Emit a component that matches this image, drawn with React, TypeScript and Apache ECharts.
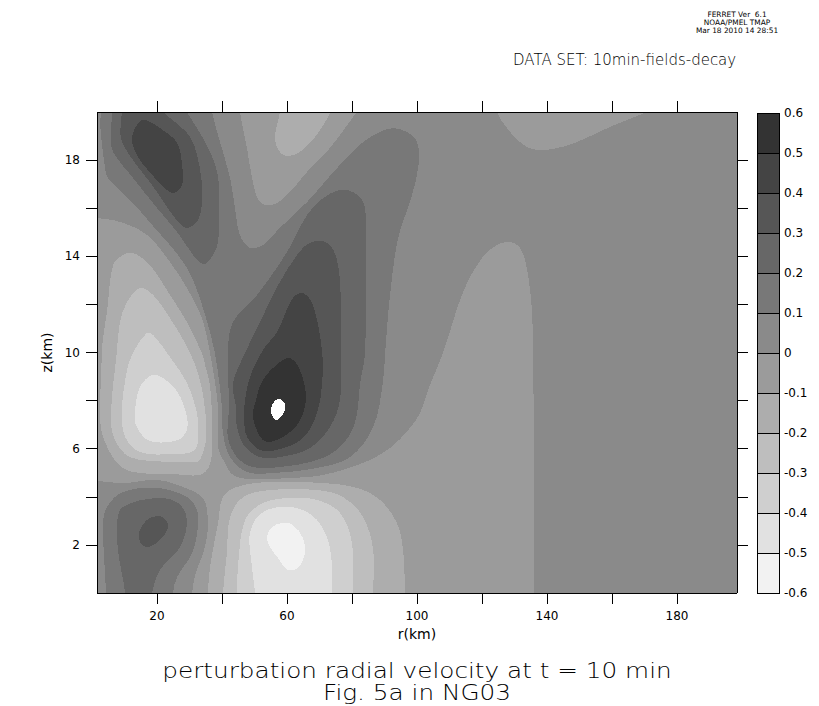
import React, { useEffect, useRef } from "react";
import * as echarts from "echarts";

// axis data
const rRange = [1.54, 198.46];
const zRange = [0, 20];
const rTicks = [20, 40, 60, 80, 100, 120, 140, 160, 180];
const rLabels = [20, 60, 100, 140, 180];
const zTicks = [2, 4, 6, 8, 10, 12, 14, 16, 18];
const zLabels = [2, 6, 10, 14, 18];
const levels = [-0.6, -0.5, -0.4, -0.3, -0.2, -0.1, 0, 0.1, 0.2, 0.3, 0.4, 0.5, 0.6];
const bandColors = ["#f2f2f2", "#e1e1e1", "#cfcfcf", "#bebebe", "#adadad", "#9b9b9b", "#8a8a8a", "#787878", "#676767", "#565656", "#444444", "#333333"];

// contour outlines as [r km, z km]
const above01 = [[2.8,20.5],[36.9,20.5],[36.9,20],[39.4,18.75],[42.5,17.26],[44,16.01],[45.5,14.89],[48.6,14.35],[52.6,14.47],[57.8,15.18],[66.2,16.26],[75.4,17.67],[83.4,18.75],[88.6,19.17],[92.6,19.33],[96.9,19.17],[100,18.75],[100.6,17.92],[98.5,16.55],[94.2,14.76],[91.7,12.39],[90.2,9.98],[89.5,8.73],[86.5,6.9],[79.4,5.65],[69.2,5.2],[55.7,4.99],[47.7,5.03],[42.5,5.65],[40.3,6.65],[40,7.73],[37.8,9.98],[34.8,11.56],[30.8,13.1],[26.5,14.05],[18.5,15.3],[13.2,16.13],[4.9,17.26],[4,17.67],[2.5,19.46],[2.8,20]];
const above02Upper = [[6.2,20.5],[6.2,20],[5.8,18.92],[6.5,18.34],[12.6,17.26],[20,16.01],[26.2,15.01],[32.3,13.85],[34.8,13.68],[37.2,14.05],[38.8,14.59],[39.1,16.26],[38.5,17.51],[34.8,18.75],[29.2,20],[27.1,20.5]];
const above03Upper = [[9.2,20.5],[9.2,20],[8.9,18.92],[12.6,18],[17.8,17.09],[26.5,15.43],[29.5,15.18],[32.6,15.51],[33.8,16.13],[33.8,17.09],[32.3,18.21],[30.2,18.96],[25.5,19.59],[21.8,20],[19.4,20.5]];
const above04Upper = [[12.3,18.92],[14.8,19.63],[17.2,19.63],[21.8,19.25],[26.2,18.71],[27.7,17.8],[27.7,16.96],[24.9,16.63],[21.8,16.92],[17.2,17.59],[13.8,18.21]];
const above02Mid = [[76.3,16.76],[80.3,16.67],[83.4,16.26],[84.3,15.43],[84.3,13.35],[84,9.98],[82.5,8.73],[80.9,7.07],[76.3,6.07],[69.2,5.53],[57.8,5.24],[49.5,5.24],[44.6,5.65],[41.8,6.49],[42.2,7.73],[41.8,9.98],[43.4,11.27],[50.8,12.39],[60,14.18],[66.2,15.72],[71.1,16.42]];
const above03Mid = [[69.2,14.64],[73.2,14.47],[75.7,13.64],[76.6,11.98],[76.6,9.98],[76.3,8.02],[73.2,6.9],[67.1,6.03],[57.8,5.65],[51.7,5.65],[47.1,6.07],[44.6,6.9],[44.3,7.73],[43.4,8.73],[47.1,9.98],[51.7,11.27],[57.8,12.93],[64.9,14.35]];
const above04Mid = [[64.9,12.47],[68,11.98],[70.8,10.02],[70.8,8.73],[69.2,7.48],[64.9,6.44],[56.9,5.95],[51.7,5.95],[47.7,6.49],[46.8,7.32],[47.1,8.02],[48.6,8.98],[52.6,10.1],[56.9,10.85],[61.8,12.27]];
const above05Mid = [[60.9,9.77],[64,9.27],[65.8,8.02],[63.1,6.99],[56.9,6.36],[52.6,6.36],[49.5,7.32],[50.2,7.9],[52.6,8.86],[57.8,9.6]];
const above06Mid = [[57.2,8.07],[59.1,7.94],[59.4,7.61],[56.9,7.19],[55.1,7.48],[55.4,7.82]];
const below0Main = [[-0.6,15.59],[1.5,15.59],[8.6,15.43],[16.9,14.89],[24,13.76],[29.2,12.68],[33.8,11.43],[36.3,9.98],[38.8,7.73],[38.8,6.07],[40.9,5.41],[43.4,4.91],[48.6,4.74],[60.9,4.78],[71.1,4.91],[83.4,5.41],[91.7,6.03],[97.8,6.86],[100.9,7.48],[104,8.65],[108,9.98],[114.2,12.52],[120,13.93],[124.6,14.47],[128.6,14.59],[131.7,14.35],[133.8,13.51],[135.4,11.68],[135.7,9.98],[136,5.95],[136,3.5],[136,1],[136,0],[136,-0.3],[135,-0.5],[31,-0.5],[30.6,-0.3],[30.8,0],[31.7,0.75],[33.8,1.5],[35.4,2.33],[35.4,3.45],[33.8,3.99],[28,4.41],[20,4.7],[9.5,4.57],[1.5,4.66],[-0.6,4.66]];
const below0Top = [[45.5,20.5],[45.5,20],[47.7,18.5],[49.5,17.09],[51.7,16.26],[55.4,16.13],[60,16.55],[66.2,17.51],[73.2,18.5],[81.5,20],[84.6,20.5]];
const below0TopRight = [[124.6,20.5],[124.6,20],[127.7,19.33],[131.7,18.75],[135.4,18.46],[141.8,18.46],[149.2,18.75],[159.4,19.38],[170.8,20],[179.4,20.5]];
const belowM01Top = [[57.8,20.5],[57.8,20],[56.3,18.92],[57.8,18.34],[60.3,18.17],[64,18.34],[69.2,19.05],[73.5,20],[75.7,20.5]];
const belowM01Left = [[6.5,13.64],[9.5,14.05],[12.6,14.14],[17.8,13.64],[24,12.39],[29.2,11.27],[33.8,9.98],[34.8,9.48],[36.3,8.65],[36.9,7.32],[36.9,5.82],[36,5.24],[33.2,4.91],[24.9,4.95],[12.6,5.03],[7.7,5.41],[3.4,6.49],[2.5,7.32],[3.1,10.1],[3.4,10.6],[4.6,11.68]];
const belowM02Left = [[8.6,11.27],[10.8,12.1],[14.8,12.68],[18.8,12.39],[24,11.43],[30.2,9.98],[33.2,8.86],[34.8,7.61],[35.1,6.36],[33.2,5.53],[31.7,5.45],[24,5.45],[11.7,5.65],[7.1,6.36],[5.8,7.32],[7.7,10.1]];
const belowM03Left = [[16.9,10.81],[18.8,10.73],[24,9.81],[29.2,8.73],[32.3,7.48],[32.6,6.78],[31.7,5.95],[24.9,5.78],[14.8,5.86],[10.2,6.49],[9.2,7.61],[10.8,9.27],[12.6,9.98]];
const belowM04Left = [[14.8,8.57],[18.5,9.06],[21.8,8.94],[26.5,8.32],[29.2,7.32],[29.2,6.78],[26.5,6.36],[17.8,6.32],[13.8,6.9],[13.2,7.48]];
const belowM01Low = [[35.7,-0.5],[35.7,0],[36.3,1.08],[38.8,2.91],[40.3,3.99],[44.6,4.41],[54.8,4.62],[71.1,4.57],[81.5,4.37],[88.6,3.87],[93.8,2.91],[95.7,1.79],[96.3,0],[96.3,-0.5]];
const belowM02Low = [[40.3,-0.5],[40.3,0],[41.5,1.66],[42.5,3.16],[46.5,3.99],[54.8,4.28],[69.2,4.28],[77.2,3.99],[83.4,3.16],[86.5,1.79],[86.5,0],[86.5,-0.5]];
const belowM03Low = [[44.6,-0.5],[44.6,0],[44.9,1.08],[47.1,3.04],[52.6,3.74],[60.9,3.95],[69.2,3.87],[76.3,3.33],[80,2.08],[80.3,0],[80.3,-0.5]];
const belowM04Low = [[50.2,-0.5],[50.2,0],[48.6,1.79],[48.6,2.49],[50.8,3.16],[55.7,3.53],[63.1,3.53],[69.2,3.04],[73.2,1.91],[73.8,0],[73.8,-0.5]];
const belowM05Low = [[53.8,2.33],[55.4,2.74],[58.5,2.91],[61.8,2.83],[64.9,2.29],[65.5,1.66],[63.4,1.04],[60.3,0.96],[57.2,1.46],[54.8,1.91]];
const above01Low = [[4.3,-0.5],[4.3,0],[3.4,2.91],[4.6,3.58],[9.5,4.2],[20,4.37],[29.2,3.99],[32.3,3.45],[32.6,2.74],[30.8,1.66],[26.2,0.67],[24.9,0],[24.9,-0.5]];
const above02Low = [[10.2,-0.5],[10.2,0],[8,1.79],[7.7,2.91],[9.5,3.58],[20,3.95],[26.5,3.74],[29.2,3.04],[27.1,1.91],[20.9,0.96],[18.5,0],[18.5,-0.5]];
const above03Low = [[14.5,2.54],[16.9,3.04],[20.9,3.2],[23.4,2.83],[21.5,2.29],[17.2,1.91],[14.8,2.12]];

const byBand = (i: number) => bandColors[i];
const contours: { points: number[][]; fill: string }[] = [
  { points: above01, fill: byBand(7) }, { points: above02Upper, fill: byBand(8) }, { points: above03Upper, fill: byBand(9) }, { points: above04Upper, fill: byBand(10) },
  { points: above02Mid, fill: byBand(8) }, { points: above03Mid, fill: byBand(9) }, { points: above04Mid, fill: byBand(10) }, { points: above05Mid, fill: byBand(11) }, { points: above06Mid, fill: "#ffffff" },
  { points: below0Main, fill: byBand(5) }, { points: below0Top, fill: byBand(5) }, { points: below0TopRight, fill: byBand(5) },
  { points: belowM01Top, fill: byBand(4) }, { points: belowM01Left, fill: byBand(4) }, { points: belowM02Left, fill: byBand(3) }, { points: belowM03Left, fill: byBand(2) }, { points: belowM04Left, fill: byBand(1) },
  { points: belowM01Low, fill: byBand(4) }, { points: belowM02Low, fill: byBand(3) }, { points: belowM03Low, fill: byBand(2) }, { points: belowM04Low, fill: byBand(1) }, { points: belowM05Low, fill: byBand(0) },
  { points: above01Low, fill: byBand(7) }, { points: above02Low, fill: byBand(8) }, { points: above03Low, fill: byBand(9) },
];

const sans = "'DejaVu Sans', sans-serif";
const line = { show: true, onZero: false, lineStyle: { color: "#000", width: 1 } };
const tick = { show: true, length: 11, inside: false, lineStyle: { color: "#000", width: 1 } };
const labelFont = { color: "#000", fontFamily: sans, fontSize: 12 };

export default function App() {
  const ref = useRef<HTMLDivElement>(null);
  useEffect(() => {
    const chart = echarts.init(ref.current!, undefined, { renderer: "svg" });
    chart.setOption({
      animation: false,
      backgroundColor: "#ffffff",
      grid: [
        { left: 97, top: 112, width: 640, height: 481, show: true, backgroundColor: byBand(6), borderWidth: 0 },
        { left: 757, top: 113, width: 22, height: 480, show: false },
      ],
      xAxis: [
        { type: "value", z: 5, gridIndex: 0, min: rRange[0], max: rRange[1], position: "bottom", axisLine: line, splitLine: { show: false },
          axisTick: { ...tick, customValues: rTicks }, axisLabel: { ...labelFont, margin: 17, customValues: rLabels, hideOverlap: false },
          name: "r(km)", nameLocation: "middle", nameGap: 34, nameTextStyle: { ...labelFont, fontSize: 14 } },
        { type: "value", z: 5, gridIndex: 0, min: rRange[0], max: rRange[1], position: "top", axisLine: line, splitLine: { show: false },
          axisTick: { ...tick, customValues: rTicks }, axisLabel: { show: false } },
        { type: "value", gridIndex: 1, min: 0, max: 1, show: false },
      ],
      yAxis: [
        { type: "value", z: 5, gridIndex: 0, min: zRange[0], max: zRange[1], position: "left", axisLine: line, splitLine: { show: false },
          axisTick: { ...tick, customValues: zTicks }, axisLabel: { ...labelFont, margin: 17, customValues: zLabels },
          name: "z(km)", nameLocation: "middle", nameGap: 38, nameTextStyle: { ...labelFont, fontSize: 14 } },
        { type: "value", z: 5, gridIndex: 0, min: zRange[0], max: zRange[1], position: "right", axisLine: line, splitLine: { show: false },
          axisTick: { ...tick, customValues: zTicks }, axisLabel: { show: false } },
        { type: "value", gridIndex: 1, min: levels[0], max: levels[levels.length - 1], interval: 0.1, position: "right", axisLine: { show: false }, axisTick: { show: false }, splitLine: { show: false },
          axisLabel: { ...labelFont, margin: 5, formatter: (v: number) => String(Number(v.toFixed(1))) } },
      ],
      series: [
        {
          type: "custom", xAxisIndex: 0, yAxisIndex: 0, clip: true, silent: true,
          data: contours.map((c) => c.points[0]),
          renderItem: (params: any, api: any) => ({
            type: "polygon",
            shape: { points: contours[params.dataIndex].points.map((p) => api.coord(p)), smooth: 0.35 },
            style: { fill: contours[params.dataIndex].fill },
          }),
        },
        {
          type: "custom", xAxisIndex: 2, yAxisIndex: 2, silent: true,
          data: bandColors.map((_, i) => [0, levels[i], 1, levels[i + 1]]),
          renderItem: (params: any, api: any) => {
            const a = api.coord([api.value(0), api.value(1)]);
            const b = api.coord([api.value(2), api.value(3)]);
            return { type: "rect", shape: { x: a[0], y: b[1], width: b[0] - a[0], height: a[1] - b[1] }, style: { fill: bandColors[params.dataIndex], stroke: "#000", lineWidth: 1 } };
          },
        },
      ],
      graphic: [
        { type: "text", x: 737, y: 14, style: { text: "FERRET Ver  6.1", font: `7.4px ${sans}`, fill: "#000", align: "center", verticalAlign: "middle" } },
        { type: "text", x: 737, y: 22, style: { text: "NOAA/PMEL TMAP", font: `7.4px ${sans}`, fill: "#000", align: "center", verticalAlign: "middle" } },
        { type: "text", x: 737, y: 30, style: { text: "Mar 18 2010 14 28:51", font: `7.4px ${sans}`, fill: "#000", align: "center", verticalAlign: "middle" } },
        { type: "text", x: 513, y: 60, style: { text: "DATA SET: 10min-fields-decay", font: `200 15px ${sans}`, fill: "#000", align: "left", verticalAlign: "middle" } },
        { type: "text", x: 417, y: 671, scaleX: 1.15, style: { text: "perturbation radial velocity at t = 10 min", font: `200 21.5px ${sans}`, fill: "#000", align: "center", verticalAlign: "middle" } },
        { type: "text", x: 417, y: 693, scaleX: 1.15, style: { text: "Fig. 5a in NG03", font: `200 21.5px ${sans}`, fill: "#000", align: "center", verticalAlign: "middle" } },
      ],
    });
    return () => chart.dispose();
  }, []);
  return (
    <>
      <style>{"svg path{shape-rendering:crispEdges}"}</style>
      <div ref={ref} style={{ position: "absolute", left: 0, top: 0, width: 819, height: 706 }} />
    </>
  );
}
